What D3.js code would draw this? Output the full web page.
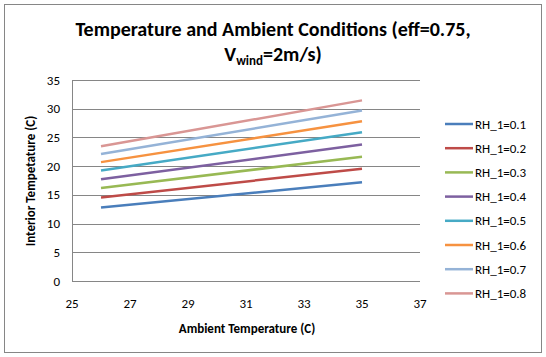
<!DOCTYPE html>
<html><head><meta charset="utf-8">
<script src="https://cdn.jsdelivr.net/npm/d3@7"></script>
<style>body{margin:0;background:#fff}svg{display:block}</style>
</head><body>
<svg id="c" width="546" height="357"></svg>
<script>
const xValues = [26, 35];
const seriesNames = ["RH_1=0.1","RH_1=0.2","RH_1=0.3","RH_1=0.4","RH_1=0.5","RH_1=0.6","RH_1=0.7","RH_1=0.8"];
const rh01 = [12.8, 17.2];
const rh02 = [14.55, 19.55];
const rh03 = [16.2, 21.65];
const rh04 = [17.7, 23.75];
const rh05 = [19.25, 25.9];
const rh06 = [20.7, 27.8];
const rh07 = [22.1, 29.7];
const rh08 = [23.45, 31.45];
const seriesValues = [rh01, rh02, rh03, rh04, rh05, rh06, rh07, rh08];
const colors = ["#4A7EBB","#BE4B48","#98B954","#7D60A0","#46AAC5","#F69240","#95B3D7","#D99694"];
const xTicks = [25, 27, 29, 31, 33, 35, 37];
const yTicks = [0, 5, 10, 15, 20, 25, 30, 35];

const svg = d3.select("#c");
const font = "Calibri, Carlito, 'Open Sans', sans-serif";
svg.append("rect").attr("x",4.5).attr("y",4.5).attr("width",537).attr("height",348)
  .attr("fill","#fff").attr("stroke","#868686").attr("stroke-width",1);

const x = d3.scaleLinear().domain([25,37]).range([72,420]);
const y = d3.scaleLinear().domain([0,35]).range([281,80]);

// gridlines
svg.append("g").selectAll("line").data(yTicks).join("line")
  .attr("x1",x(25)).attr("x2",x(37))
  .attr("y1",d=>Math.round(y(d))+0.5).attr("y2",d=>Math.round(y(d))+0.5)
  .attr("stroke","#868686").attr("stroke-width",1);
svg.append("line").attr("x1",72.5).attr("x2",72.5).attr("y1",y(35)).attr("y2",y(0)+0.5)
  .attr("stroke","#868686");

// y axis labels
svg.append("g").selectAll("text").data(yTicks).join("text")
  .attr("x",60).attr("y",d=>y(d)+4.5).attr("text-anchor","end")
  .attr("font-family",font).attr("font-size",13).attr("fill","#000").text(d=>d);
// x axis labels
svg.append("g").selectAll("text").data(xTicks).join("text")
  .attr("x",d=>x(d)).attr("y",308).attr("text-anchor","middle")
  .attr("font-family",font).attr("font-size",13).attr("fill","#000").text(d=>d);

// lines
const line = d3.line().x((d,i)=>x(xValues[i])).y(d=>y(d));
svg.append("g").selectAll("path").data(seriesValues).join("path")
  .attr("d",d=>line(d)).attr("fill","none")
  .attr("stroke",(d,i)=>colors[i]).attr("stroke-width",2.5);

// titles
svg.append("text").attr("x",273).attr("y",36).attr("text-anchor","middle")
  .attr("font-family",font).attr("font-weight","bold").attr("font-size",20).attr("fill","#000")
  .text("Temperature and Ambient Conditions (eff=0.75,");
const t2 = svg.append("text").attr("x",273).attr("y",61).attr("text-anchor","middle")
  .attr("font-family",font).attr("font-weight","bold").attr("font-size",20).attr("fill","#000");
t2.append("tspan").text("V");
t2.append("tspan").attr("font-size",13).attr("dy",4).text("wind");
t2.append("tspan").attr("dy",-4).text("=2m/s)");

svg.append("text").attr("x",247).attr("y",333).attr("text-anchor","middle")
  .attr("font-family",font).attr("font-weight","bold").attr("font-size",13).attr("fill","#000")
  .text("Ambient Temperature (C)");
svg.append("text").attr("transform","translate(35,181) rotate(-90)").attr("text-anchor","middle")
  .attr("font-family",font).attr("font-weight","bold").attr("font-size",13).attr("fill","#000")
  .text("Interior Tempetature (C)");

// legend
const lg = svg.append("g").selectAll("g").data(seriesNames).join("g")
  .attr("transform",(d,i)=>`translate(0,${124 + i*24.2})`);
lg.append("line").attr("x1",445).attr("x2",473).attr("y1",0).attr("y2",0)
  .attr("stroke",(d,i)=>colors[i]).attr("stroke-width",2.5);
lg.append("text").attr("x",475).attr("y",4.5).attr("font-family",font).attr("font-size",13)
  .attr("fill","#000").text(d=>d);
</script>
</body></html>
